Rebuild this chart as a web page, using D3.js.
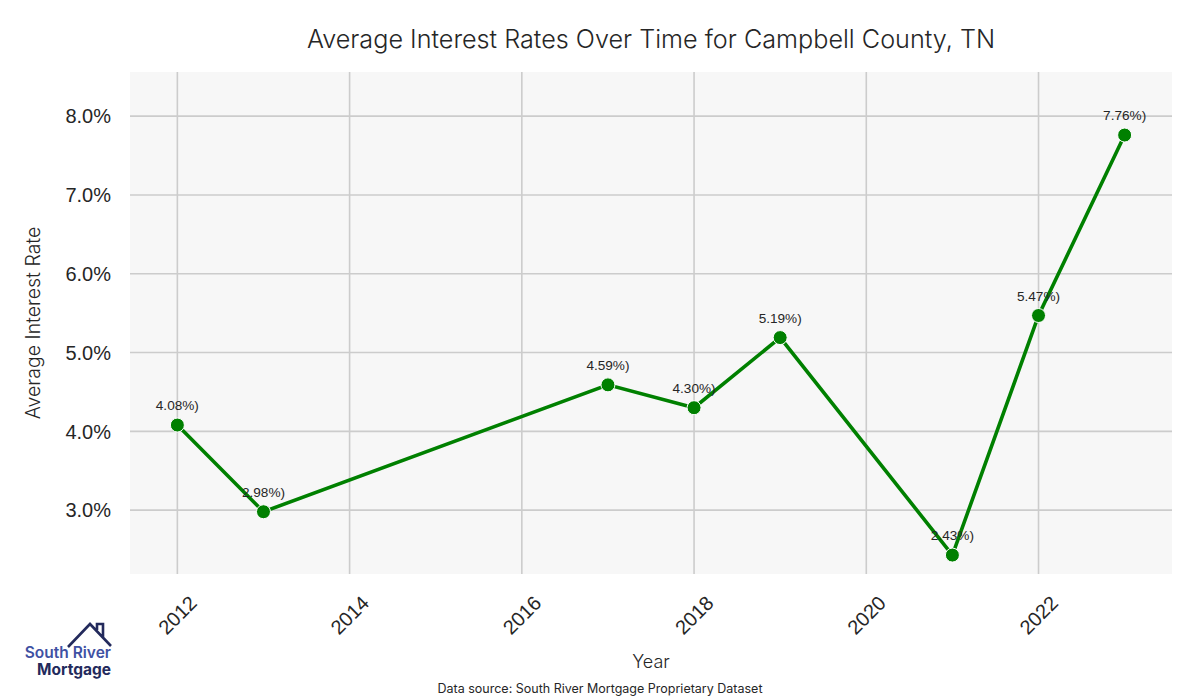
<!DOCTYPE html>
<html>
<head>
<meta charset="utf-8">
<script src="https://cdn.jsdelivr.net/npm/d3@7"></script>
<style>
  body { margin: 0; background: #fff; }
</style>
</head>
<body>
<div id="chart"></div>
<script>
// values
const years = [2012, 2013, 2017, 2018, 2019, 2021, 2022, 2023]
const rates = [4.08, 2.98, 4.59, 4.30, 5.19, 2.43, 5.47, 7.76]
const xTicks = [2012, 2014, 2016, 2018, 2020, 2022]
const yTicks = [3, 4, 5, 6, 7, 8]

const W = 1200, H = 700
const M = {LEFT: 130, RIGHT: 28, TOP: 72, BOTTOM: 126}

const svg = d3.select("#chart").append("svg")
    .attr("width", W)
    .attr("height", H)

const x = d3.scaleLinear()
    .domain([2011.45, 2023.55])
    .range([M.LEFT, W - M.RIGHT])
const y = d3.scaleLinear()
    .domain([2.19, 8.56])
    .range([H - M.BOTTOM, M.TOP])

const data = years.map((d, i) => ({year: d, rate: rates[i]}))

// plot background
svg.append("rect")
    .attr("x", M.LEFT).attr("y", M.TOP)
    .attr("width", W - M.LEFT - M.RIGHT)
    .attr("height", H - M.TOP - M.BOTTOM)
    .attr("fill", "#f7f7f7")

// grid
svg.append("g").selectAll("line")
    .data(xTicks).enter().append("line")
    .attr("x1", d => x(d)).attr("x2", d => x(d))
    .attr("y1", M.TOP).attr("y2", H - M.BOTTOM)
    .attr("stroke", "#cccccc").attr("stroke-width", 1.6)
svg.append("g").selectAll("line")
    .data(yTicks).enter().append("line")
    .attr("x1", M.LEFT).attr("x2", W - M.RIGHT)
    .attr("y1", d => y(d)).attr("y2", d => y(d))
    .attr("stroke", "#cccccc").attr("stroke-width", 1.6)

// tick labels
svg.append("g").selectAll("text")
    .data(yTicks).enter().append("text")
    .attr("x", M.LEFT - 19)
    .attr("y", d => y(d))
    .attr("dy", "0.36em")
    .attr("text-anchor", "end")
    .attr("font-family", "Liberation Sans, Arial, sans-serif")
    .attr("font-size", 20)
    .attr("fill", "#262626")
    .text(d => d3.format(".1f")(d) + "%")

svg.append("g").selectAll("text")
    .data(xTicks).enter().append("text")
    .attr("transform", d => `translate(${x(d)},${H - M.BOTTOM + 41}) rotate(-45)`)
    .attr("dy", "0.36em")
    .attr("text-anchor", "middle")
    .attr("font-family", "Liberation Sans, Arial, sans-serif")
    .attr("font-size", 20)
    .attr("fill", "#262626")
    .text(d => d)

// line + markers
const line = d3.line()
    .x(d => x(d.year))
    .y(d => y(d.rate))

svg.append("path")
    .datum(data)
    .attr("d", line)
    .attr("fill", "none")
    .attr("stroke", "#008000")
    .attr("stroke-width", 3.6)

svg.append("g").selectAll("circle")
    .data(data).enter().append("circle")
    .attr("cx", d => x(d.year))
    .attr("cy", d => y(d.rate))
    .attr("r", 7)
    .attr("fill", "#008000")
    .attr("stroke", "#ffffff")
    .attr("stroke-width", 1)

svg.append("g").selectAll("text")
    .data(data).enter().append("text")
    .attr("x", d => x(d.year))
    .attr("y", d => y(d.rate) - 15)
    .attr("text-anchor", "middle")
    .attr("font-family", "Liberation Sans, Arial, sans-serif")
    .attr("font-size", 13.6)
    .attr("fill", "#262626")
    .text(d => d3.format(".2f")(d.rate) + "%)")

// titles
svg.append("text")
    .attr("x", (M.LEFT + W - M.RIGHT) / 2)
    .attr("y", 48)
    .attr("text-anchor", "middle")
    .attr("font-family", "Inter, sans-serif")
    .attr("font-weight", 300)
    .attr("font-size", 25.2)
    .attr("fill", "#262626")
    .text("Average Interest Rates Over Time for Campbell County, TN")

svg.append("text")
    .attr("transform", `translate(40,${(M.TOP + H - M.BOTTOM) / 2}) rotate(-90)`)
    .attr("text-anchor", "middle")
    .attr("font-family", "Inter, sans-serif")
    .attr("font-weight", 300)
    .attr("font-size", 19.5)
    .attr("fill", "#262626")
    .text("Average Interest Rate")

svg.append("text")
    .attr("x", (M.LEFT + W - M.RIGHT) / 2)
    .attr("y", 668)
    .attr("text-anchor", "middle")
    .attr("font-family", "Inter, sans-serif")
    .attr("font-weight", 300)
    .attr("font-size", 18)
    .attr("fill", "#262626")
    .text("Year")

svg.append("text")
    .attr("x", 600)
    .attr("y", 693)
    .attr("text-anchor", "middle")
    .attr("font-family", "Inter, sans-serif")
    .attr("font-size", 12.5)
    .attr("fill", "#262626")
    .text("Data source: South River Mortgage Proprietary Dataset")

// logo
const logo = svg.append("g")
logo.append("path")
    .attr("d", "M68,647 L90,624 L111,646 M97,630 L97,624 L103,624 L103,637")
    .attr("fill", "none")
    .attr("stroke", "#232a5c")
    .attr("stroke-width", 2.6)
logo.append("text")
    .attr("x", 111).attr("y", 658)
    .attr("text-anchor", "end")
    .attr("font-family", "Inter, sans-serif")
    .attr("font-weight", 600)
    .attr("font-size", 15.5)
    .attr("fill", "#3f51a3")
    .text("South River")
logo.append("text")
    .attr("x", 111).attr("y", 675)
    .attr("text-anchor", "end")
    .attr("font-family", "Inter, sans-serif")
    .attr("font-weight", 700)
    .attr("font-size", 15.5)
    .attr("fill", "#232a5c")
    .text("Mortgage")
</script>
</body>
</html>
